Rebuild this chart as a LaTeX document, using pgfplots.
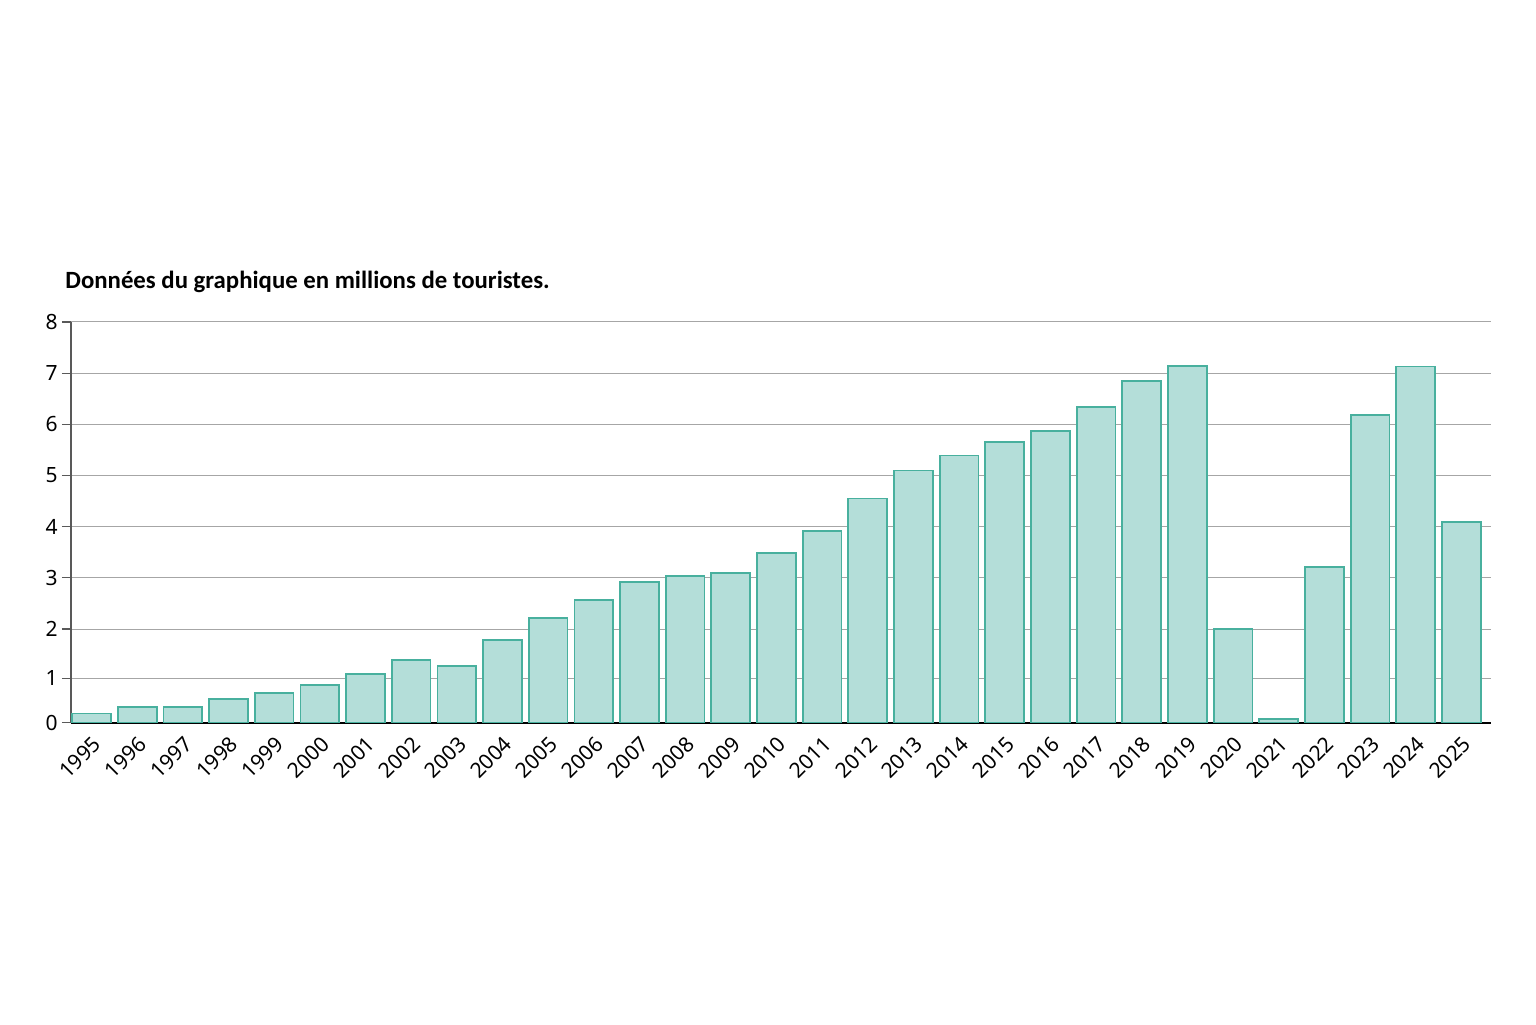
\documentclass[border=0pt]{standalone}
\usepackage{fontspec}
\setmainfont{Noto Sans}
\newfontfamily\titlefont{Carlito}
\usepackage{pgfplots}
\pgfplotsset{compat=1.18}
\definecolor{barfill}{RGB}{180,222,217}
\definecolor{baredge}{RGB}{72,176,158}
\begin{document}
\begin{tikzpicture}[x=1pt,y=1pt]
\useasboundingbox[fill=white] (0,0) rectangle (768,512);
\begin{axis}[
  at={(35.5pt,150.65pt)}, anchor=south west,
  scale only axis, width=710pt, height=200.35pt,
  xmin=-0.45, xmax=30.65, ymin=0.17, ymax=8,
  axis x line*=bottom, axis y line*=left,
  x axis line style={black, line width=0.8pt, -},
  y axis line style={black!65, line width=0.6pt, -},
  ytick={0.17,1.04,2,3,4,5,6,7,8},
  yticklabels={0,1,2,3,4,5,6,7,8},
  xtick={0,...,30},
  xticklabels={1995,1996,1997,1998,1999,2000,2001,2002,2003,2004,2005,2006,2007,2008,2009,2010,2011,2012,2013,2014,2015,2016,2017,2018,2019,2020,2021,2022,2023,2024,2025},
  x tick style={draw=none},
  y tick style={black!65, line width=0.6pt},
  tick align=outside, major tick length=4.5pt,
  ymajorgrids, grid style={black!35, line width=0.5pt},
  /pgf/number format/assume math mode=true,
  tick label style={font=\fontsize{10.5}{12}\selectfont},
  xticklabel style={rotate=45, anchor=north east, inner sep=1pt},
  yticklabel style={inner sep=2pt},
  ybar, bar width=0.85,
]
\addplot[fill=barfill, draw=baredge, line width=0.9pt] coordinates {
(0,0.35) (1,0.47) (2,0.48) (3,0.63) (4,0.75) (5,0.90) (6,1.12) (7,1.40)
(8,1.28) (9,1.78) (10,2.21) (11,2.57) (12,2.92) (13,3.04) (14,3.09)
(15,3.48) (16,3.91) (17,4.55) (18,5.10) (19,5.39) (20,5.66) (21,5.87)
(22,6.34) (23,6.85) (24,7.14) (25,2.00) (26,0.24) (27,3.22) (28,6.19)
(29,7.13) (30,4.09)
};
\end{axis}
\node[anchor=base west, inner sep=0pt, font=\titlefont\bfseries\fontsize{12.4}{14}\selectfont] at (32.5,367.8) {Données du graphique en millions de touristes.};
\end{tikzpicture}
\end{document}
